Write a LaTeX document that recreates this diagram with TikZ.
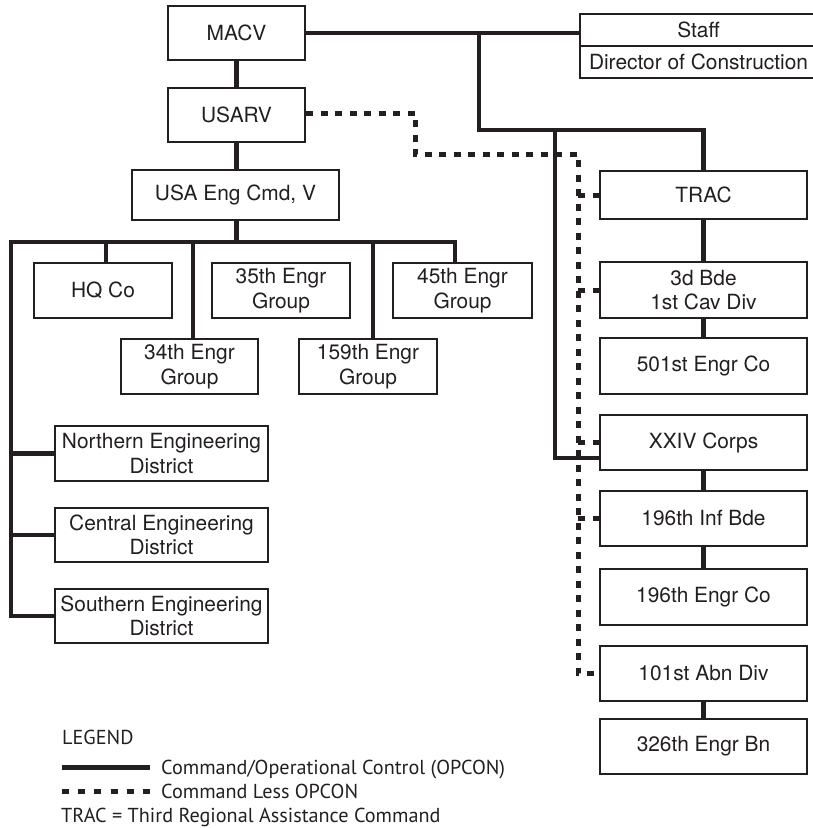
\documentclass[tikz,border=0pt]{standalone}
\usepackage{fontspec}
\setmainfont{TeX Gyre Heros}
\newfontfamily\legendfont{PT Sans}
\usetikzlibrary{calc}
\definecolor{ink}{RGB}{35,31,32}
\begin{document}
\begin{tikzpicture}[x=1pt,y=-1pt,
  box/.style={draw=ink, line width=2.2pt, fill=white, inner sep=0pt, align=center,
    font=\fontsize{20.9}{24.5}\selectfont, text=ink},
  cmd/.style={line width=4.6pt, draw=ink},
  opc/.style={line width=5pt, draw=ink, dash pattern=on 7pt off 7.5pt},
  legtext/.style={font=\legendfont\fontsize{20.2}{24}\selectfont, anchor=west,
    inner sep=0pt, text=ink, text height=14pt, text depth=0pt}]
\useasboundingbox (0,0) rectangle (813,828);

% top chain
\node[box, minimum width=137pt, minimum height=54pt] (macv) at (236.5,33) {MACV};
\node[box, minimum width=137pt, minimum height=54pt] (usarv) at (236.5,115) {USARV};
\node[box, minimum width=207pt, minimum height=50pt] (engcmd) at (235.5,195) {USA Eng Cmd, V};

% staff box (cut at the right edge)
\begin{scope}
\clip (0,0) rectangle (813,828);
\node[box, minimum width=237pt, minimum height=32pt] (staff) at (698.5,30) {Staff};
\node[box, minimum width=237pt, minimum height=32pt] (doc) at (698.5,62) {Director of Construction};
\end{scope}

% right column
\node[box, minimum width=207pt, minimum height=48pt] (trac) at (703.5,195) {TRAC};
\node[box, minimum width=207pt, minimum height=56pt] (bde3) at (703.5,290) {3d Bde\\1st Cav Div};
\node[box, minimum width=207pt, minimum height=56pt] (e501) at (703.5,366) {501st Engr Co};
\node[box, minimum width=207pt, minimum height=55pt] (xxiv) at (703.5,442.5) {XXIV Corps};
\node[box, minimum width=207pt, minimum height=55pt] (inf196) at (703.5,518.5) {196th Inf Bde};
\node[box, minimum width=207pt, minimum height=56pt] (e196) at (703.5,597) {196th Engr Co};
\node[box, minimum width=207pt, minimum height=55pt] (abn101) at (703.5,673.5) {101st Abn Div};
\node[box, minimum width=207pt, minimum height=55pt] (e326) at (703.5,746.5) {326th Engr Bn};

% left groups
\node[box, minimum width=138pt, minimum height=55pt] (hq) at (103,290.5) {HQ Co};
\node[box, minimum width=138pt, minimum height=55pt] (g35) at (281,290.5) {35th Engr\\Group};
\node[box, minimum width=139pt, minimum height=55pt] (g45) at (462.5,290.5) {45th Engr\\Group};
\node[box, minimum width=137pt, minimum height=55pt] (g34) at (189.5,366.5) {34th Engr\\Group};
\node[box, minimum width=138pt, minimum height=55pt] (g159) at (368,366.5) {159th Engr\\Group};
\node[box, minimum width=213pt, minimum height=55pt] (ned) at (161.5,453.5) {Northern Engineering\\District};
\node[box, minimum width=213pt, minimum height=54pt] (ced) at (161.5,535) {Central Engineering\\District};
\node[box, minimum width=213pt, minimum height=54pt] (sed) at (161.5,616) {Southern Engineering\\District};

% command lines
\draw[cmd] (macv.south) -- (usarv.north);
\draw[cmd] (usarv.south) -- (usarv.south |- engcmd.north);
\coordinate (barL) at (11,242);
\coordinate (barR) at (455,242);
\draw[cmd] (engcmd.south -| usarv.south) -- (usarv.south |- barL);
\draw[cmd] (g45.north -| barR) -- (barR) -- (barL) -- (barL |- sed.west) -- (sed.west);
\draw[cmd] (barL |- ned.west) -- (ned.west);
\draw[cmd] (barL |- ced.west) -- (ced.west);
\draw[cmd] ([xshift=3pt]hq.north) -- ([xshift=3pt]hq.north |- barL);
\draw[cmd] ([xshift=3.5pt]g34.north) -- ([xshift=3.5pt]g34.north |- barL);
\draw[cmd] ([xshift=5pt]g159.north) -- ([xshift=5pt]g159.north |- barL);

\coordinate (ja) at (479,130);
\coordinate (jb) at (555,130);
\coordinate (xl) at ([yshift=-15.5pt]xxiv.west);
\draw[cmd] (macv.east) -- (macv.east -| staff.west);
\draw[cmd] (macv.east -| ja) -- (ja) -- (ja -| trac.north) -- (trac.north);
\draw[cmd] (jb) -- (jb |- xl) -- (xl);
\draw[cmd] (trac.south) -- (bde3.north);
\draw[cmd] (bde3.south) -- (e501.north);
\draw[cmd] (xxiv.south) -- (inf196.north);
\draw[cmd] (inf196.south) -- (e196.north);
\draw[cmd] (abn101.south) -- (e326.north);

% command less OPCON
\coordinate (da) at (415,113);
\coordinate (db) at (415,154);
\coordinate (dc) at (578,154);
\draw[opc] (usarv.east |- da) -- (da) -- (db) -- (dc) -- (dc |- abn101.west) -- (abn101.west);
\foreach \n in {trac,bde3,xxiv,inf196} \draw[opc] (dc |- \n.west) -- (\n.west);

% legend
\node[legtext] (leg) at (62,737) {LEGEND};
\coordinate (s1) at (62,767);
\coordinate (s2) at (150,767);
\draw[line width=5pt, draw=ink] (s1) -- (s2);
\node[legtext] (l1) at (161,767) {Command/Operational Control (OPCON)};
\coordinate (t1) at (62,791);
\coordinate (t2) at (150,791);
\draw[line width=5pt, draw=ink, dash pattern=on 7pt off 9.2pt] (t1) -- (t2);
\node[legtext] (l2) at (161,791) {Command Less OPCON};
\node[legtext] (l3) at (61,815) {TRAC = Third Regional Assistance Command};
\end{tikzpicture}
\end{document}
